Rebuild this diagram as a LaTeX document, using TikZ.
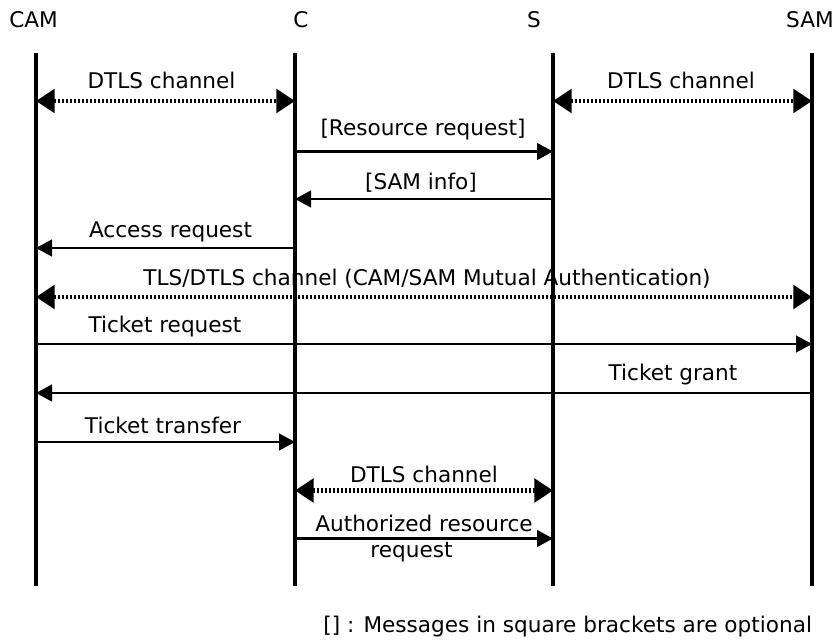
\documentclass[tikz,border=0pt]{standalone}
\usepackage{fontspec}
\setmainfont{DejaVu Sans}
\usetikzlibrary{arrows.meta}

\begin{document}
\begin{tikzpicture}[
  x=0.75pt, y=-0.75pt,
  every node/.style={inner sep=0pt, outer sep=0pt, font=\fontsize{16.2pt}{19.5pt}\selectfont},
  head/.style={anchor=base},
  lbl/.style={anchor=base},
  lifeline/.style={line width=3.5pt},
  msg/.style={line width=1.75pt, -{Triangle[length=12pt,width=12.5pt]}},
  channel/.style={line width=3.5pt, dash pattern=on 2pt off 1pt,
    {Triangle[length=14pt,width=17.5pt]}-{Triangle[length=14pt,width=17.5pt]}}
]
\useasboundingbox (0,0) rectangle (836,642);

% participant names
\node[head] (camh) at (33.5,28) {CAM};
\node[head] (ch)   at (301,28)  {C};
\node[head] (sh)   at (534,28)  {S};
\node[head] (samh) at (810,28)  {SAM};

% lifelines
\coordinate (cam) at (36,53);   \coordinate (camb) at (36,586);
\coordinate (c)   at (295,53);  \coordinate (cb)   at (295,586);
\coordinate (s)   at (553,53);  \coordinate (sb)   at (553,586);
\coordinate (sam) at (812,53);  \coordinate (samb) at (812,586);
\draw[lifeline] (cam) -- (camb);
\draw[lifeline] (c) -- (cb);
\draw[lifeline] (s) -- (sb);
\draw[lifeline] (sam) -- (samb);

% message rows
\coordinate (r1)  at (0,101);
\coordinate (r2)  at (0,151.5);
\coordinate (r3)  at (0,199);
\coordinate (r4)  at (0,248);
\coordinate (r5)  at (0,297);
\coordinate (r6)  at (0,344);
\coordinate (r7)  at (0,393);
\coordinate (r8)  at (0,442);
\coordinate (r9)  at (0,490.5);
\coordinate (r10) at (0,538.5);

% connectors
\draw[channel] (cam |- r1) -- (c |- r1);
\draw[channel] (s |- r1) -- (sam |- r1);
\draw[msg] (c |- r2) -- (s |- r2);
\draw[msg] (s |- r3) -- (c |- r3);
\draw[msg] (c |- r4) -- (cam |- r4);
\draw[channel] (cam |- r5) -- (sam |- r5);
\draw[msg] (cam |- r6) -- (sam |- r6);
\draw[msg] (sam |- r7) -- (cam |- r7);
\draw[msg] (cam |- r8) -- (c |- r8);
\draw[channel] (c |- r9) -- (s |- r9);
\draw[msg] (c |- r10) -- (s |- r10);

% labels
\node[lbl] (l1a) at (161.5,89)  {DTLS channel};
\node[lbl] (l1b) at (681,89)    {DTLS channel};
\node[lbl] (l2)  at (423,136)   {[Resource request]};
\node[lbl] (l3)  at (421,190)   {[SAM info]};
\node[lbl] (l4)  at (170.5,237) {Access request};
\node[lbl] (l5)  at (427,285)   {TLS/DTLS channel (CAM/SAM Mutual Authentication)};
\node[lbl] (l6)  at (165,332)   {Ticket request};
\node[lbl] (l7)  at (673,380)   {Ticket grant};
\node[lbl] (l8)  at (163,433)   {Ticket transfer};
\node[lbl] (l9)  at (424,482)   {DTLS channel};
\node[lbl] (l10a) at (424,531)  {Authorized resource};
\node[lbl] (l10b) at (411.5,557) {request};

% footnote
\node[anchor=base east] (note) at (812,632) {[] : Messages in square brackets are optional};
\end{tikzpicture}
\end{document}
